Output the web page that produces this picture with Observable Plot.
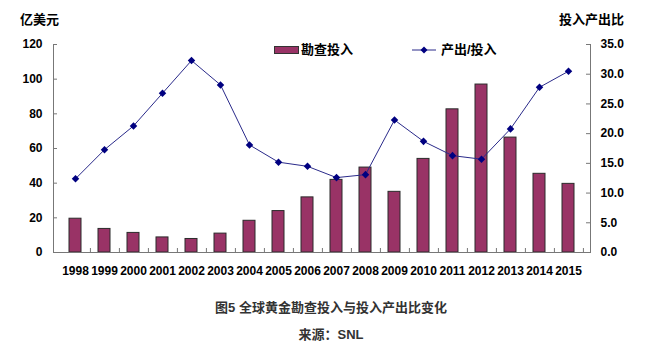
<!DOCTYPE html>
<html>
<head>
<meta charset="utf-8">
<script src="https://cdn.jsdelivr.net/npm/d3@7"></script>
<script src="https://cdn.jsdelivr.net/npm/@observablehq/plot@0.6"></script>
<style>
  body { margin: 0; background: #fff; }
  #wrap { position: relative; width: 662px; height: 351px; overflow: hidden;
          font-family: "Liberation Sans", Arial, "Noto Sans CJK SC", sans-serif; }
  .t { position: absolute; font-weight: bold; color: #000; white-space: nowrap; line-height: 16px; }
  .cap { position: absolute; left: 0; width: 662px; text-align: center; font-size: 13px;
         font-weight: bold; color: #333; line-height: 16px; }
</style>
</head>
<body>
<div id="wrap">
  <div id="chart"></div>
  <div class="t" style="left:20px; top:12px; font-size:13px;">亿美元</div>
  <div class="t" style="left:559px; top:12px; font-size:13px;">投入产出比</div>
  <svg style="position:absolute; left:274px; top:46px;" width="26" height="9">
    <rect x="0.5" y="0.5" width="24" height="7" fill="#993366" stroke="#333"/>
  </svg>
  <div class="t" style="left:301px; top:42px; font-size:13px;">勘查投入</div>
  <svg style="position:absolute; left:412px; top:45px;" width="24" height="10">
    <line x1="0" y1="5" x2="24" y2="5" stroke="#2a2a8a" stroke-width="1"/>
    <path d="M12,1.5 L15.5,5 L12,8.5 L8.5,5 Z" fill="#000080"/>
  </svg>
  <div class="t" style="left:441px; top:42px; font-size:13px;">产出/投入</div>
  <div class="cap" style="top:300px;">图5 全球黄金勘查投入与投入产出比变化</div>
  <div class="cap" style="top:327px;">来源：SNL</div>
</div>
<script>
const years = ["1998","1999","2000","2001","2002","2003","2004","2005","2006","2007","2008","2009","2010","2011","2012","2013","2014","2015"];
const investment = [19.5, 13.6, 11.3, 8.7, 7.8, 10.9, 18.3, 23.9, 31.8, 41.9, 49.0, 35.0, 54.0, 82.6, 96.9, 66.3, 45.4, 39.6];
const ratio = [12.4, 17.3, 21.3, 26.8, 32.3, 28.2, 18.1, 15.2, 14.5, 12.6, 13.1, 22.3, 18.7, 16.3, 15.7, 20.8, 27.8, 30.5];
const leftTicks = [0, 20, 40, 60, 80, 100, 120];
const rightTicks = [0, 5, 10, 15, 20, 25, 30, 35];
const leftMax = 120, rightMax = 35;

const toLeft = v => v * leftMax / rightMax;
const rows = years.map((y, i) => ({year: y, inv: investment[i], ratio: toLeft(ratio[i])}));
const rightScaled = rightTicks.map(toLeft);

const W = 662, H = 290, mL = 53, mR = 72, mT = 44, mB = 38;
const plotW = W - mL - mR, plotH = H - mT - mB;
const step = plotW / years.length;

const chart = Plot.plot({
  width: W, height: H,
  marginLeft: mL, marginRight: mR, marginTop: mT, marginBottom: mB,
  style: {fontFamily: "Liberation Sans, Arial, sans-serif", fontSize: "12px", fontWeight: "bold", color: "#000", background: "#fff"},
  x: {type: "band", domain: years, paddingInner: 0.59, paddingOuter: 0.295, label: null},
  y: {domain: [0, leftMax], label: null},
  marks: [
    Plot.barY(rows, {x: "year", y: "inv", fill: "#993366", stroke: "#2b2b2b", strokeWidth: 1}),
    Plot.line(rows, {x: "year", y: "ratio", stroke: "#2a2a8a", strokeWidth: 1}),
    Plot.dot(rows, {x: "year", y: "ratio", symbol: "diamond2", r: 3.4, fill: "#000080", stroke: "none"}),
    Plot.axisY({anchor: "left", ticks: leftTicks, tickSize: 0, tickPadding: 11, label: null, fill: "#000"}),
    Plot.axisY({anchor: "right", ticks: rightScaled, tickFormat: d => (d * rightMax / leftMax).toFixed(1), tickSize: 0, tickPadding: 10, label: null, fill: "#000"}),
    Plot.axisX({tickSize: 0, tickPadding: 14, label: null, fill: "#000"}),
    Plot.ruleY(leftTicks, {y: d => d, insetRight: plotW - 4, stroke: "#777"}),
    Plot.ruleY(rightScaled, {y: d => d, insetLeft: plotW - 4, stroke: "#777"}),
    Plot.ruleX(years, {x: d => d, dx: step / 2, insetTop: plotH - 4, stroke: "#777"}),
    Plot.frame({anchor: "left", stroke: "#777"}),
    Plot.frame({anchor: "right", stroke: "#777"}),
    Plot.frame({anchor: "bottom", stroke: "#777"})
  ]
});
document.getElementById("chart").appendChild(chart);
</script>
</body>
</html>
